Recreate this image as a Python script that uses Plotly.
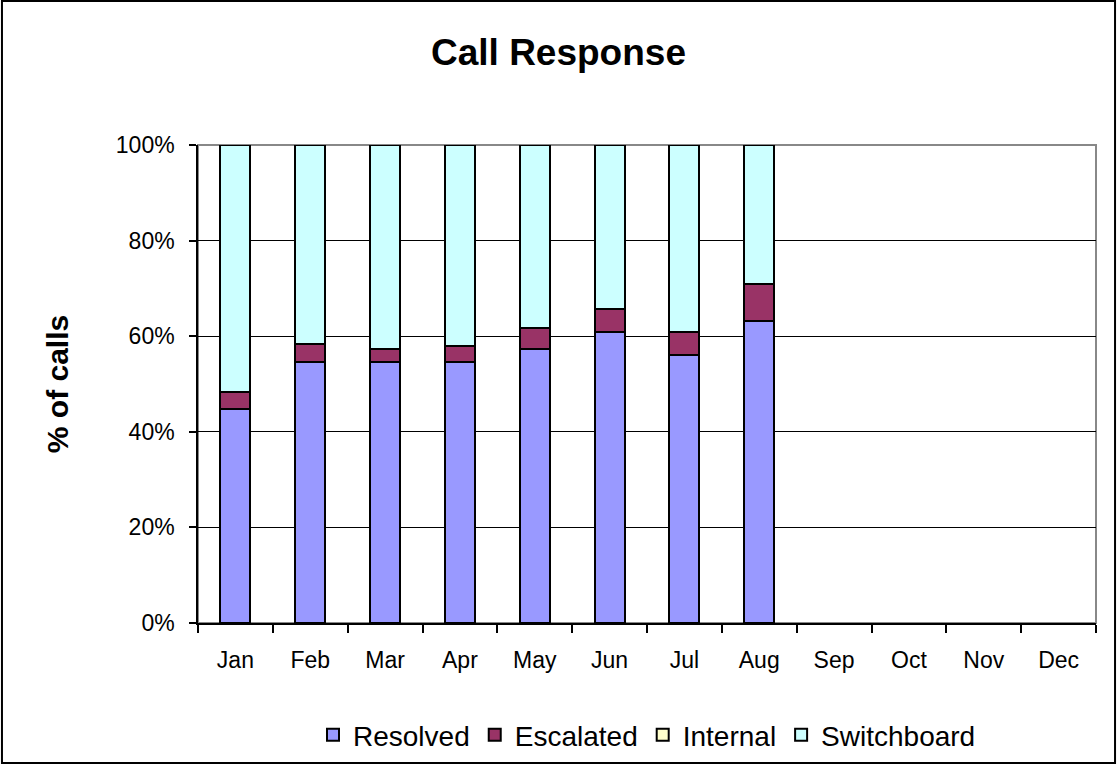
import plotly.graph_objects as go

months = ["Jan", "Feb", "Mar", "Apr", "May", "Jun", "Jul", "Aug", "Sep", "Oct", "Nov", "Dec"]
resolved = [44.8, 54.5, 54.5, 54.5, 57.4, 60.8, 56.0, 63.2, None, None, None, None]
escalated = [3.5, 3.9, 2.9, 3.4, 4.4, 4.9, 4.9, 7.8, None, None, None, None]
internal = [0, 0, 0, 0, 0, 0, 0, 0, None, None, None, None]
switchboard = [51.7, 41.6, 42.6, 42.1, 38.2, 34.3, 39.1, 29.0, None, None, None, None]
y_ticks = [0, 20, 40, 60, 80, 100]
y_labels = ["0%", "20%", "40%", "60%", "80%", "100%"]

series = [
    ("Resolved", resolved, "#9999FF"),
    ("Escalated", escalated, "#993366"),
    ("Internal", internal, "#FFFFCC"),
    ("Switchboard", switchboard, "#CCFFFF"),
]

fig = go.Figure()
for name, vals, col in series:
    fig.add_trace(go.Bar(
        x=months, y=vals, name=name,
        marker=dict(color=col, line=dict(color="black", width=2)),
        hoverinfo="x+y+name",
    ))

fnt = "Arial, Liberation Sans, sans-serif"
fig.update_layout(
    width=1117, height=765,
    barmode="stack", bargap=0.6,
    plot_bgcolor="white", paper_bgcolor="white",
    margin=dict(l=198, r=21, t=145, b=142, autoexpand=False),
    font=dict(family=fnt, size=23, color="black"),
    title=dict(text="<b>Call Response</b>", x=0.5, xanchor="center", y=0.932, yanchor="middle",
               font=dict(size=37, family=fnt)),
    legend=dict(orientation="h", x=0.5, xanchor="center", yref="container", y=0.039,
                yanchor="middle", traceorder="normal", font=dict(size=28, family=fnt),
                bgcolor="rgba(0,0,0,0)", itemwidth=30, tracegroupgap=0),
    xaxis=dict(type="category", categoryorder="array", categoryarray=months,
               range=[-0.5, 11.5], showline=True, linecolor="black", linewidth=1.5,
               ticks="outside", tickson="boundaries", ticklen=8, tickcolor="black",
               tickwidth=1.5, showgrid=False, tickfont=dict(size=23), ticklabelstandoff=16,
               automargin=False),
    yaxis=dict(range=[0, 100], tickvals=y_ticks, ticktext=y_labels,
               showline=True, linecolor="black", linewidth=1.5,
               ticks="outside", ticklen=7, tickcolor="black", tickwidth=1.5,
               showgrid=True, gridcolor="black", gridwidth=1.2,
               zeroline=False, tickfont=dict(size=23), ticklabelstandoff=10,
               automargin=False,
               title=dict(text="<b>% of calls</b>", font=dict(size=30), standoff=38)),
)

# plot area border (gray)
fig.add_shape(type="rect", xref="paper", yref="paper", x0=0, x1=1, y0=0, y1=1,
              line=dict(color="#888888", width=2), layer="below")
# outer chart border
fig.add_shape(type="rect", xref="paper", yref="paper",
              x0=-0.2183, x1=1.0212, y0=-0.2929, y1=1.3013,
              line=dict(color="black", width=2))

fig.write_html(
    "out.html",
    config={"displayModeBar": False},
    post_script=("document.body.style.margin='0';"
                 "document.body.style.overflow='hidden';"
                 "document.documentElement.style.overflow='hidden';"),
)
